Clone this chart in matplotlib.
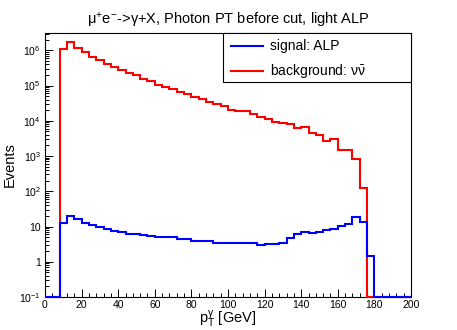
import numpy as np
import matplotlib
matplotlib.use("Agg")
import matplotlib.pyplot as plt
from matplotlib.ticker import MultipleLocator, LogLocator, FuncFormatter, NullFormatter
from matplotlib.patches import Rectangle

plt.rcParams["font.family"] = ["Liberation Sans", "DejaVu Sans"]
plt.rcParams["mathtext.fontset"] = "custom"
plt.rcParams["mathtext.rm"] = "Liberation Sans"
plt.rcParams["mathtext.it"] = "Liberation Sans"
plt.rcParams["mathtext.bf"] = "Liberation Sans:bold"

# photon pT bins, 4 GeV wide, 0-200 GeV
edges = np.arange(0, 204, 4)

# signal: ALP, filled bins 8-180 GeV
signal = [12.3, 20, 16, 12.6, 11, 9.8, 8.5, 7.6, 6.9, 6.3,
          6.0, 5.6, 5.4, 5.1, 4.9, 4.9, 4.3, 4.3, 3.9, 3.9,
          3.9, 3.5, 3.5, 3.5, 3.3, 3.3, 3.3, 3.0, 3.2, 3.2,
          3.3, 4.7, 6.2, 6.9, 6.6, 7.2, 8.1, 8.3, 10.2, 12,
          18.6, 13.3, 1.46]

# background: nu nubar, filled bins 8-176 GeV
background = [1.12e6, 1.70e6, 1.17e6, 8.7e5, 6.5e5, 5.2e5, 4.1e5, 3.4e5, 2.8e5, 2.3e5,
              1.95e5, 1.58e5, 1.35e5, 1.07e5, 9.3e4, 7.8e4, 6.6e4, 5.6e4, 4.8e4, 4.1e4,
              3.5e4, 2.95e4, 2.57e4, 2.09e4, 1.86e4, 1.86e4, 1.55e4, 1.32e4, 1.12e4, 9.1e3,
              8.9e3, 7.9e3, 6.2e3, 6.5e3, 4.6e3, 4.0e3, 2.7e3, 2.95e3, 1.48e3, 1.48e3,
              810, 126]

first_bin = 2
ymin, ymax = 0.1, 3.1e6

sig = np.zeros(len(edges) - 1)
sig[first_bin:first_bin + len(signal)] = signal
bkg = np.zeros(len(edges) - 1)
bkg[first_bin:first_bin + len(background)] = background

fig = plt.figure(figsize=(4.57, 3.30), dpi=100)
ax = fig.add_axes([45 / 457, 33 / 330, 366 / 457, 264 / 330])

# empty bins sit on the bottom of the frame, like ROOT does on a log axis
ax.stairs(np.clip(bkg, ymin, None), edges, baseline=None, color="#ff0000", lw=1.5, clip_on=False, zorder=3)
ax.stairs(np.clip(sig, ymin, None), edges, baseline=None, color="#0000ff", lw=1.5, clip_on=False, zorder=4)

ax.set_yscale("log")
ax.set_xlim(0, 200)
ax.set_ylim(ymin, ymax)

ax.xaxis.set_major_locator(MultipleLocator(20))
ax.xaxis.set_minor_locator(MultipleLocator(4))
ax.yaxis.set_major_locator(LogLocator(base=10))
ax.yaxis.set_minor_locator(LogLocator(base=10, subs=np.arange(2, 10), numticks=20))
ax.yaxis.set_minor_formatter(NullFormatter())


def decade(v, pos):
    e = int(round(np.log10(v)))
    if e == 0:
        return "1"
    if e == 1:
        return "10"
    return r"$10^{%d}$" % e


ax.yaxis.set_major_formatter(FuncFormatter(decade))

ax.tick_params(which="both", direction="in", top=False, right=False, width=0.7, colors="black")
ax.tick_params(which="major", length=5.5, labelsize=7.5)
ax.tick_params(which="minor", length=2.6)
ax.tick_params(axis="x", pad=2.5)
ax.tick_params(axis="y", pad=3)
for s in ax.spines.values():
    s.set_linewidth(0.8)

ax.set_xlabel(r"p$_{T}^{\gamma}$ [GeV]", fontsize=10.5, labelpad=-1)
ax.set_ylabel("Events", fontsize=10.5, labelpad=2)
ax.set_title(r"μ$^{+}$e$^{-}$->γ+X, Photon PT before cut, light ALP", fontsize=10.5, pad=6)

# legend box in the ROOT style, top right of the frame
ax.add_patch(Rectangle((0.4855, 0.813), 0.5145, 0.187, transform=ax.transAxes,
                       facecolor="white", edgecolor="black", lw=0.8, zorder=6, clip_on=False))
entries = [("signal: ALP", "#0000ff"), (r"background: $\nu\bar{\nu}$", "#ff0000")]
for i, (lab, col) in enumerate(entries):
    yy = 0.952 - i * 0.095
    ax.plot([0.507, 0.595], [yy, yy], transform=ax.transAxes, color=col, lw=1.5, zorder=7)
    ax.text(0.615, yy, lab, transform=ax.transAxes, fontsize=10, va="center", ha="left", zorder=7)

fig.savefig("out.png", dpi=100)
